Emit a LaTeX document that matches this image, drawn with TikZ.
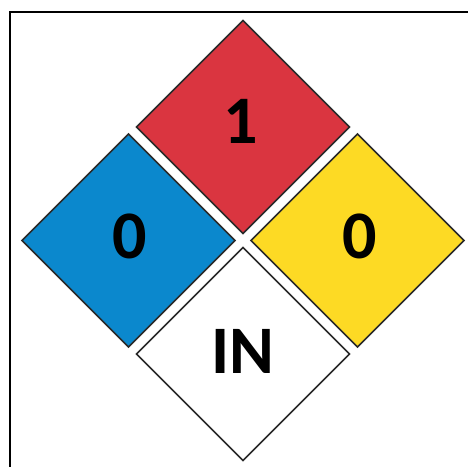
\documentclass[tikz,border=0pt]{standalone}
\usepackage{fontspec}
\setmainfont{Carlito}
\definecolor{nfpared}{HTML}{DA3540}
\definecolor{nfpablue}{HTML}{0B88CD}
\definecolor{nfpayellow}{HTML}{FDDA24}
\definecolor{edgegray}{HTML}{2A2A2A}
\tikzset{
  panel/.style={draw=edgegray, line width=1.6pt, line join=miter},
  rating/.style={font=\fontsize{68}{68}\selectfont\bfseries, text=black, inner sep=0pt}
}
\begin{document}
\begin{tikzpicture}[x=1pt,y=-1pt]
\useasboundingbox (0,0) rectangle (468,466);
\fill[white] (0,0) rectangle (468,466);
\draw[black, line width=2pt] (10,12) rectangle (490,490);
% diamonds: centre, half diagonal 106.5
\def\h{106.5}
\filldraw[panel, fill=nfpared]    (243,20.5)  -- (349.5,127) -- (243,233.5) -- (136.5,127) -- cycle;
\filldraw[panel, fill=nfpablue]   (128.5,134) -- (235,240.5) -- (128.5,347) -- (22,240.5) -- cycle;
\filldraw[panel, fill=nfpayellow] (357.5,134) -- (464,240.5) -- (357.5,347) -- (251,240.5) -- cycle;
\filldraw[panel, fill=white]      (243,247.5) -- (349.5,354) -- (243,460.5) -- (136.5,354) -- cycle;
\node[rating] (flam) at (241,121) {1};
\node[rating] (health) at (130,236) {0};
\node[rating] (react) at (360,236) {0};
\node[rating] (spec) at (243,351) {IN};
\end{tikzpicture}
\end{document}
